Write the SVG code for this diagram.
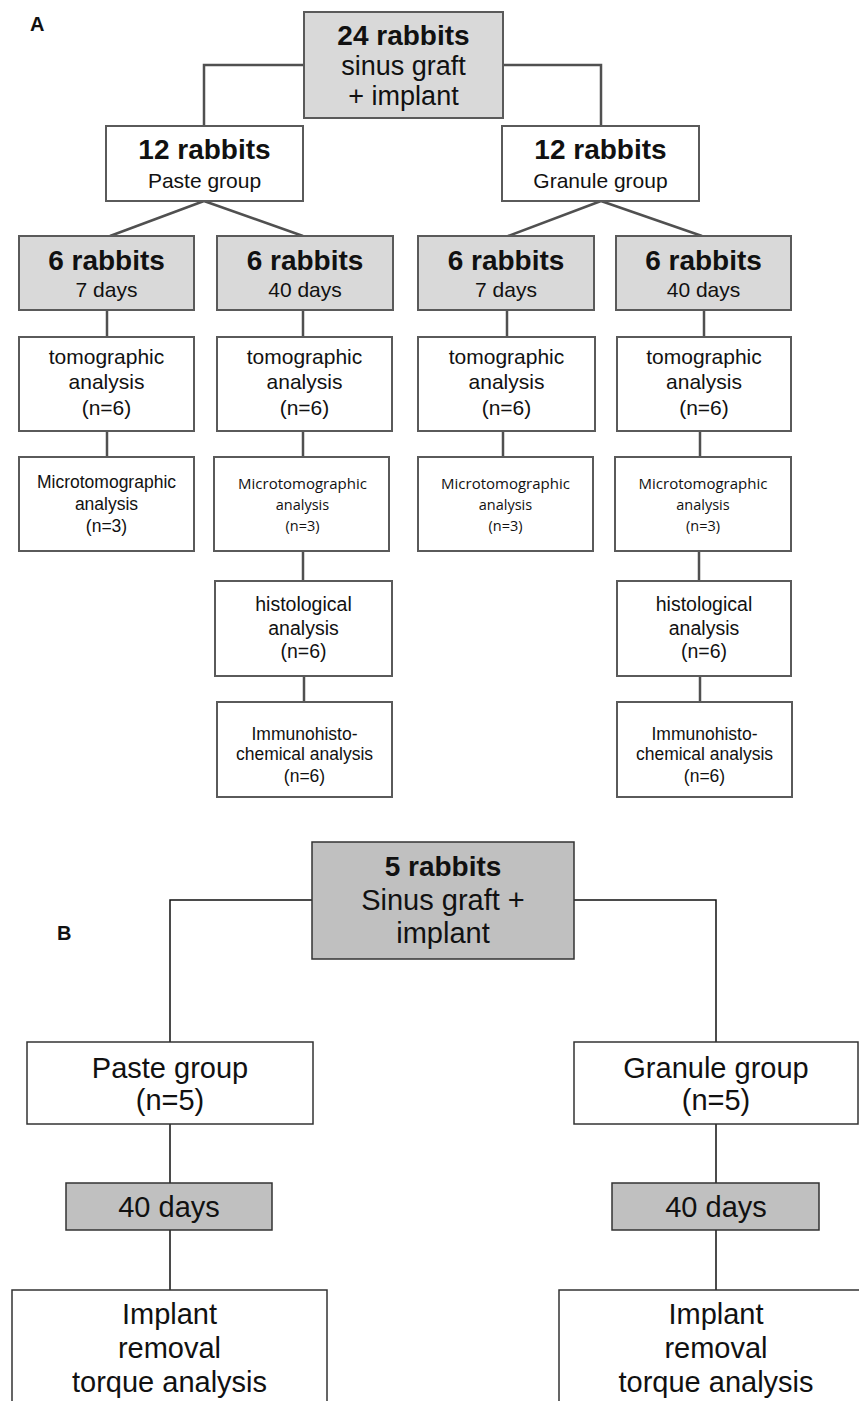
<svg xmlns="http://www.w3.org/2000/svg" width="859" height="1401" viewBox="0 0 859 1401">
<style>
.bg{fill:#ffffff}
.na{fill:#ffffff;stroke:#5a5a5a;stroke-width:2}
.ga{fill:#d9d9d9;stroke:#5a5a5a;stroke-width:2}
.nb{fill:#ffffff;stroke:#333333;stroke-width:1.5}
.gb{fill:#c0c0c0;stroke:#333333;stroke-width:1.5}
.ca{fill:none;stroke:#505050;stroke-width:2.5}
.cb{fill:none;stroke:#111111;stroke-width:1.5}
text{font-family:"Liberation Sans",Arial,sans-serif;fill:#111111;text-anchor:middle}
.b28{font-size:28px;font-weight:bold}
.r27{font-size:27px}
.r21{font-size:21px}
.r19{font-size:19.5px}
.r17{font-size:17.5px}
.os{font-family:"Open Sans",sans-serif;font-size:15px}
.os2{font-family:"Open Sans",sans-serif;font-size:14.5px}
.r29{font-size:29px}
.lab{font-size:20px;font-weight:bold;text-anchor:start}
</style>
<rect class="bg" x="0" y="0" width="859" height="1401"/>

<g id="connectors">
  <path class="ca" d="M304 65 H204 V126"/>
  <path class="ca" d="M503 65 H601 V126"/>
  <path class="ca" d="M204 201 L110 236 M204 201 L303 236"/>
  <path class="ca" d="M601 201 L508 236 M601 201 L702 236"/>
  <path class="ca" d="M107 310 V337 M107 431 V457"/>
  <path class="ca" d="M303 310 V337 M303 431 V457 M303 551 V581 M304 676 V702"/>
  <path class="ca" d="M507 310 V337 M503 431 V457"/>
  <path class="ca" d="M704 310 V337 M700 431 V457 M699 551 V581 M700 676 V702"/>
  <path class="cb" d="M312 900 H170 V1042"/>
  <path class="cb" d="M574 900 H716 V1042"/>
  <path class="cb" d="M170 1124 V1183 M170 1230 V1290"/>
  <path class="cb" d="M716 1124 V1183 M716 1230 V1290"/>
</g>

<text class="lab" x="30" y="31">A</text>
<text class="lab" x="57" y="940">B</text>

<g id="a-top">
  <rect class="ga" x="304" y="12" width="199" height="106"/>
  <text class="b28" x="403.5" y="45">24 rabbits</text>
  <text class="r27" x="403.5" y="75">sinus graft</text>
  <text class="r27" x="403.5" y="105">+ implant</text>
</g>

<g id="a-paste">
  <rect class="na" x="106" y="126" width="197" height="75"/>
  <text class="b28" x="204.5" y="159">12 rabbits</text>
  <text class="r21" x="204.5" y="188">Paste group</text>
</g>
<g id="a-granule">
  <rect class="na" x="502" y="126" width="197" height="75"/>
  <text class="b28" x="600.5" y="159">12 rabbits</text>
  <text class="r21" x="600.5" y="188">Granule group</text>
</g>

<g id="a-p7">
  <rect class="ga" x="19" y="236" width="175" height="74"/>
  <text class="b28" x="106.5" y="270">6 rabbits</text>
  <text class="r21" x="106.5" y="297">7 days</text>
</g>
<g id="a-p40">
  <rect class="ga" x="217" y="236" width="176" height="74"/>
  <text class="b28" x="305" y="270">6 rabbits</text>
  <text class="r21" x="305" y="297">40 days</text>
</g>
<g id="a-g7">
  <rect class="ga" x="418" y="236" width="176" height="74"/>
  <text class="b28" x="506" y="270">6 rabbits</text>
  <text class="r21" x="506" y="297">7 days</text>
</g>
<g id="a-g40">
  <rect class="ga" x="616" y="236" width="175" height="74"/>
  <text class="b28" x="703.5" y="270">6 rabbits</text>
  <text class="r21" x="703.5" y="297">40 days</text>
</g>

<g id="a-p7-tomo">
  <rect class="na" x="19" y="337" width="175" height="94"/>
  <text class="r21" x="106.5" y="364">tomographic</text>
  <text class="r21" x="106.5" y="389">analysis</text>
  <text class="r21" x="106.5" y="415">(n=6)</text>
</g>
<g id="a-p40-tomo">
  <rect class="na" x="217" y="337" width="175" height="94"/>
  <text class="r21" x="304.5" y="364">tomographic</text>
  <text class="r21" x="304.5" y="389">analysis</text>
  <text class="r21" x="304.5" y="415">(n=6)</text>
</g>
<g id="a-g7-tomo">
  <rect class="na" x="418" y="337" width="177" height="94"/>
  <text class="r21" x="506.5" y="364">tomographic</text>
  <text class="r21" x="506.5" y="389">analysis</text>
  <text class="r21" x="506.5" y="415">(n=6)</text>
</g>
<g id="a-g40-tomo">
  <rect class="na" x="617" y="337" width="174" height="94"/>
  <text class="r21" x="704" y="364">tomographic</text>
  <text class="r21" x="704" y="389">analysis</text>
  <text class="r21" x="704" y="415">(n=6)</text>
</g>

<g id="a-p7-micro">
  <rect class="na" x="19" y="457" width="175" height="94"/>
  <text class="r17" x="106.5" y="488">Microtomographic</text>
  <text class="r17" x="106.5" y="510">analysis</text>
  <text class="r17" x="106.5" y="532">(n=3)</text>
</g>
<g id="a-p40-micro">
  <rect class="na" x="214" y="457" width="175" height="94"/>
  <text class="os" x="302.5" y="489">Microtomographic</text>
  <text class="os2" x="302.5" y="510">analysis</text>
  <text class="os2" x="302.5" y="531">(n=3)</text>
</g>
<g id="a-g7-micro">
  <rect class="na" x="418" y="457" width="175" height="94"/>
  <text class="os" x="505.5" y="489">Microtomographic</text>
  <text class="os2" x="505.5" y="510">analysis</text>
  <text class="os2" x="505.5" y="531">(n=3)</text>
</g>
<g id="a-g40-micro">
  <rect class="na" x="615" y="457" width="176" height="94"/>
  <text class="os" x="703" y="489">Microtomographic</text>
  <text class="os2" x="703" y="510">analysis</text>
  <text class="os2" x="703" y="531">(n=3)</text>
</g>

<g id="a-p40-histo">
  <rect class="na" x="215" y="581" width="177" height="95"/>
  <text class="r19" x="303.5" y="611">histological</text>
  <text class="r19" x="303.5" y="635">analysis</text>
  <text class="r19" x="303.5" y="658">(n=6)</text>
</g>
<g id="a-g40-histo">
  <rect class="na" x="617" y="581" width="174" height="95"/>
  <text class="r19" x="704" y="611">histological</text>
  <text class="r19" x="704" y="635">analysis</text>
  <text class="r19" x="704" y="658">(n=6)</text>
</g>

<g id="a-p40-immuno">
  <rect class="na" x="217" y="702" width="175" height="95"/>
  <text class="r17" x="304.5" y="740">Immunohisto-</text>
  <text class="r17" x="304.5" y="760">chemical analysis</text>
  <text class="r17" x="304.5" y="782">(n=6)</text>
</g>
<g id="a-g40-immuno">
  <rect class="na" x="617" y="702" width="175" height="95"/>
  <text class="r17" x="704.5" y="740">Immunohisto-</text>
  <text class="r17" x="704.5" y="760">chemical analysis</text>
  <text class="r17" x="704.5" y="782">(n=6)</text>
</g>

<g id="b-top">
  <rect class="gb" x="312" y="842" width="262" height="117"/>
  <text class="b28" x="443" y="876">5 rabbits</text>
  <text class="r29" x="443" y="910">Sinus graft +</text>
  <text class="r29" x="443" y="943">implant</text>
</g>
<g id="b-paste">
  <rect class="nb" x="27" y="1042" width="286" height="82"/>
  <text class="r29" x="170" y="1078">Paste group</text>
  <text class="r29" x="170" y="1110">(n=5)</text>
</g>
<g id="b-granule">
  <rect class="nb" x="574" y="1042" width="284" height="82"/>
  <text class="r29" x="716" y="1078">Granule group</text>
  <text class="r29" x="716" y="1110">(n=5)</text>
</g>
<g id="b-p40">
  <rect class="gb" x="66" y="1183" width="206" height="47"/>
  <text class="r29" x="169" y="1217">40 days</text>
</g>
<g id="b-g40">
  <rect class="gb" x="612" y="1183" width="207" height="47"/>
  <text class="r29" x="716" y="1217">40 days</text>
</g>
<g id="b-p-torque">
  <rect class="nb" x="12" y="1290" width="315" height="130"/>
  <text class="r29" x="169.5" y="1324">Implant</text>
  <text class="r29" x="169.5" y="1358">removal</text>
  <text class="r29" x="169.5" y="1392">torque analysis</text>
</g>
<g id="b-g-torque">
  <rect class="nb" x="559" y="1290" width="315" height="130"/>
  <text class="r29" x="716" y="1324">Implant</text>
  <text class="r29" x="716" y="1358">removal</text>
  <text class="r29" x="716" y="1392">torque analysis</text>
</g>
</svg>
